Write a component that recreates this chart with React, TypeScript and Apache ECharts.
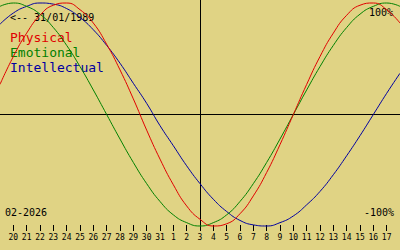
import React, { useEffect, useRef } from "react";
import * as echarts from "echarts";

// Day offsets from 03/02/2026 (Jan 19 .. Feb 18)
const dayOffsets = [
  -15, -14, -13, -12, -11, -10, -9, -8, -7, -6, -5, -4, -3, -2, -1, 0,
  1, 2, 3, 4, 5, 6, 7, 8, 9, 10, 11, 12, 13, 14, 15,
];
const tickOffsets = [
  -14, -13, -12, -11, -10, -9, -8, -7, -6, -5, -4, -3, -2, -1, 0,
  1, 2, 3, 4, 5, 6, 7, 8, 9, 10, 11, 12, 13, 14,
];
const tickLabels = [
  "20", "21", "22", "23", "24", "25", "26", "27", "28", "29", "30", "31",
  "1", "2", "3", "4", "5", "6", "7", "8", "9", "10", "11", "12", "13", "14",
  "15", "16", "17",
];

const physical = [
  0.27, 0.52, 0.73, 0.89, 0.98, 1.0, 0.94, 0.82, 0.63, 0.4, 0.14, -0.14,
  -0.4, -0.63, -0.82, -0.94, -1.0, -0.98, -0.89, -0.73, -0.52, -0.27, 0.0,
  0.27, 0.52, 0.73, 0.89, 0.98, 1.0, 0.94, 0.82,
];
const emotional = [
  0.97, 1.0, 0.97, 0.9, 0.78, 0.62, 0.43, 0.22, 0.0, -0.22, -0.43, -0.62,
  -0.78, -0.9, -0.97, -1.0, -0.97, -0.9, -0.78, -0.62, -0.43, -0.22, 0.0,
  0.22, 0.43, 0.62, 0.78, 0.9, 0.97, 1.0, 0.97,
];
const intellectual = [
  0.81, 0.91, 0.97, 1.0, 0.99, 0.95, 0.87, 0.76, 0.62, 0.46, 0.28, 0.1,
  -0.1, -0.28, -0.46, -0.62, -0.76, -0.87, -0.95, -0.99, -1.0, -0.97, -0.91,
  -0.81, -0.69, -0.54, -0.37, -0.19, 0.0, 0.19, 0.37,
];

const MONO = "DejaVu Sans Mono";

export default function App() {
  const ref = useRef<HTMLDivElement>(null);
  useEffect(() => {
    if (!ref.current) return;
    const chart = echarts.init(ref.current, null, { renderer: "svg" });
    const mk = (vals: number[]) => dayOffsets.map((d, i) => [d, vals[i]]);
    const line = (name: string, vals: number[], color: string) => ({
      name,
      type: "line",
      xAxisIndex: 0,
      yAxisIndex: 0,
      data: mk(vals),
      smooth: 0.5,
      showSymbol: false,
      symbol: "none",
      lineStyle: { color, width: 1 },
      itemStyle: { color },
      silent: true,
    });
    chart.setOption({
      animation: false,
      backgroundColor: "#e0d384",
      grid: { left: 0, right: 0, top: 0, bottom: 23 },
      xAxis: [
        {
          type: "value",
          min: -15,
          max: 15,
          axisLine: { show: true, onZero: true, lineStyle: { color: "#000", width: 1 } },
          axisTick: { show: false },
          axisLabel: { show: false },
          splitLine: { show: false },
        },
        {
          type: "value",
          min: -15,
          max: 15,
          interval: 1,
          position: "bottom",
          offset: -2,
          axisLine: { show: false },
          axisTick: {
            show: true,
            length: 6,
            customValues: tickOffsets,
            lineStyle: { color: "#000", width: 1 },
          },
          axisLabel: {
            show: true,
            customValues: tickOffsets,
            formatter: (v: number) => {
              const i = tickOffsets.indexOf(Math.round(v));
              return i >= 0 ? tickLabels[i] : "";
            },
            fontFamily: MONO,
            fontSize: 8,
            color: "#000",
            margin: 8,
            hideOverlap: false,
          },
          splitLine: { show: false },
        },
      ],
      yAxis: {
        type: "value",
        min: -1.009,
        max: 1.027,
        axisLine: { show: true, onZero: true, onZeroAxisIndex: 0, lineStyle: { color: "#000", width: 1 } },
        axisTick: { show: false },
        axisLabel: { show: false },
        splitLine: { show: false },
      },
      series: [
        line("Intellectual", intellectual, "#0000a0"),
        line("Emotional", emotional, "#008000"),
        line("Physical", physical, "#e00000"),
      ],
      graphic: [
        {
          type: "text",
          left: 10,
          top: 12,
          style: { text: "<-- 31/01/1989", font: `10px "${MONO}"`, fill: "#000" },
        },
        {
          type: "text",
          left: 10,
          top: 31,
          style: { text: "Physical", font: `13px "${MONO}"`, fill: "#e00000" },
        },
        {
          type: "text",
          left: 10,
          top: 46,
          style: { text: "Emotional", font: `13px "${MONO}"`, fill: "#008000" },
        },
        {
          type: "text",
          left: 10,
          top: 61,
          style: { text: "Intellectual", font: `13px "${MONO}"`, fill: "#0000a0" },
        },
        {
          type: "text",
          right: 7,
          top: 7,
          style: { text: "100%", font: `10px "${MONO}"`, fill: "#000" },
        },
        {
          type: "text",
          right: 6,
          top: 207,
          style: { text: "-100%", font: `10px "${MONO}"`, fill: "#000" },
        },
        {
          type: "text",
          left: 5,
          top: 207,
          style: { text: "02-2026", font: `10px "${MONO}"`, fill: "#000" },
        },
      ],
    });
    return () => chart.dispose();
  }, []);
  return (
    <div
      ref={ref}
      style={{ width: 400, height: 250, position: "fixed", left: 0, top: 0 }}
    />
  );
}
